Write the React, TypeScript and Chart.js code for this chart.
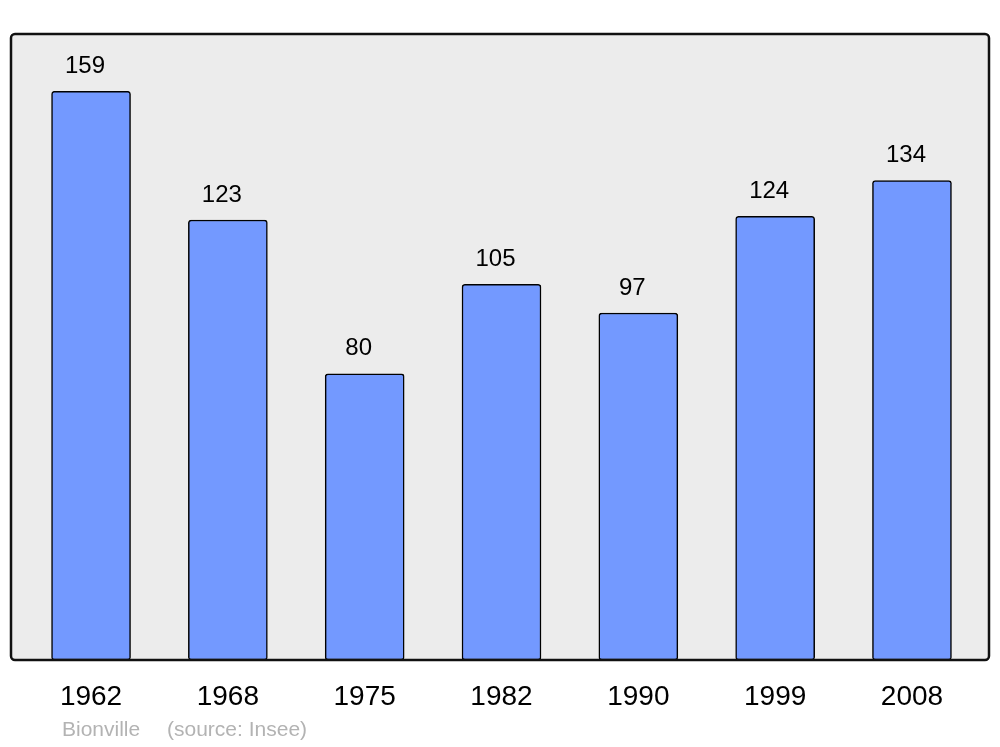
import React, { useEffect, useRef } from "react";
import { Chart, registerables } from "chart.js";

Chart.register(...registerables);

const years = ["1962", "1968", "1975", "1982", "1990", "1999", "2008"];
const population = [159, 123, 80, 105, 97, 124, 134];
const footerName = "Bionville";
const footerSource = "(source: Insee)";

const FONT = '"Liberation Sans", Arial, sans-serif';

const boxPlugin = {
  id: "boxPlugin",
  beforeDatasetsDraw(chart: any) {
    const { ctx, chartArea } = chart;
    const { left, top, right, bottom } = chartArea;
    ctx.save();
    ctx.beginPath();
    ctx.roundRect(left, top, right - left, bottom - top, 4);
    ctx.fillStyle = "#ececec";
    ctx.fill();
    ctx.restore();
  },
  afterDatasetsDraw(chart: any) {
    const { ctx, chartArea } = chart;
    const { left, top, right, bottom } = chartArea;
    ctx.save();
    ctx.beginPath();
    ctx.roundRect(left, top, right - left, bottom - top, 4);
    ctx.lineWidth = 2.5;
    ctx.strokeStyle = "#111111";
    ctx.stroke();

    // value labels
    const meta = chart.getDatasetMeta(0);
    ctx.fillStyle = "#000000";
    ctx.font = `24px ${FONT}`;
    ctx.textAlign = "center";
    ctx.textBaseline = "middle";
    meta.data.forEach((el: any, i: number) => {
      ctx.fillText(String(population[i]), el.x - 6, el.y - 25);
    });

    // footer
    ctx.fillStyle = "#b3b3b3";
    ctx.font = `21px ${FONT}`;
    ctx.textAlign = "left";
    ctx.fillText(footerName, 62, 730);
    ctx.fillText(footerSource, 167, 730);
    ctx.restore();
  },
};

export default function App() {
  const ref = useRef<HTMLCanvasElement>(null);
  useEffect(() => {
    if (!ref.current) return;
    const chart = new Chart(ref.current, {
      type: "bar",
      data: {
        datasets: [
          {
            data: population.map((v, i) => ({ x: i, y: v })),
            backgroundColor: "#7399ff",
            borderColor: "#000000",
            borderWidth: 1.5,
            borderRadius: 3,
            borderSkipped: false,
            barThickness: 79,
          },
        ],
      },
      options: {
        responsive: false,
        animation: false,
        events: [],
        layout: { padding: { left: 11, right: 11, top: 34, bottom: 0 } },
        plugins: { legend: { display: false }, tooltip: { enabled: false } },
        scales: {
          x: {
            type: "linear",
            offset: false,
            min: -0.585,
            max: 6.563,
            grid: { display: false, offset: false },
            border: { display: false },
            afterBuildTicks: (scale: any) => {
              scale.ticks = years.map((_, i) => ({ value: i }));
            },
            afterFit: (scale: any) => {
              scale.height = 87;
            },
            ticks: {
              autoSkip: false,
              maxRotation: 0,
              padding: 12.5,
              color: "#000000",
              font: { size: 28, family: FONT },
              callback: (v: any) => years[Math.round(Number(v))] ?? "",
            },
          },
          y: {
            display: false,
            min: 0,
            max: 175,
          },
        },
      },
      plugins: [boxPlugin],
    } as any);
    return () => chart.destroy();
  }, []);
  return (
    <div style={{ position: "fixed", left: 0, top: 0, width: 1000, height: 747, background: "#ffffff" }}>
      <canvas ref={ref} width={1000} height={747} style={{ width: 1000, height: 747, display: "block" }} />
    </div>
  );
}
